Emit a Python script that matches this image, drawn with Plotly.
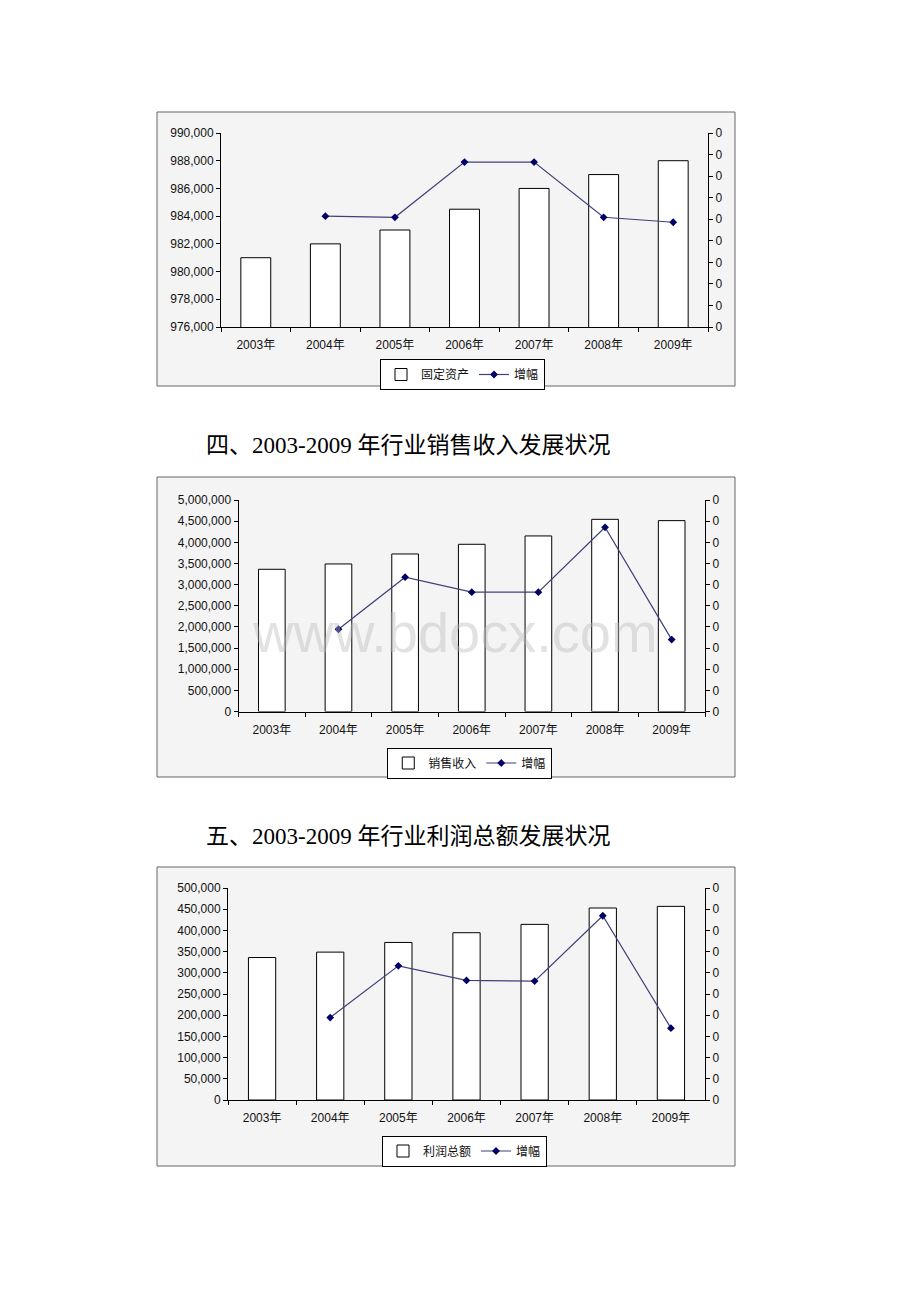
import plotly.graph_objects as go

# ---------------- data ----------------
years = ["2003年", "2004年", "2005年", "2006年", "2007年", "2008年", "2009年"]

fixed_assets = [981000, 982000, 983000, 984500, 986000, 987000, 988000]
fixed_growth = [None, 0.0514, 0.0509, 0.0765, 0.0765, 0.0509, 0.0486]

sales = [3362000, 3488000, 3724000, 3953000, 4150000, 4543000, 4512000]
sales_growth = [None, 0.0389, 0.0635, 0.0564, 0.0564, 0.0871, 0.0340]

profit = [336000, 348800, 371600, 394500, 414200, 452800, 456700]
profit_growth = [None, 0.0389, 0.0633, 0.0564, 0.0561, 0.0869, 0.0339]

bar_names = ["固定资产", "销售收入", "利润总额"]
line_name = "增幅"
headings = ["四、2003-2009 年行业销售收入发展状况", "五、2003-2009 年行业利润总额发展状况"]
watermark = "www.bdocx.com"

# ---------------- layout helpers ----------------
W, H = 920, 1302
def fx(px):
    return px / W
def fy(py):
    return 1 - py / H

charts = [
    dict(bars=fixed_assets, growth=fixed_growth, name=bar_names[0],
         frame=(157, 112, 735, 386), plot=(221, 133, 708, 327),
         lrange=[976000, 990000], ldtick=2000, rrange=[0, 0.09],
         legend_y=374.5, bw=0.43),
    dict(bars=sales, growth=sales_growth, name=bar_names[1],
         frame=(157, 477, 735, 777), plot=(238.5, 500, 705, 711.5),
         lrange=[0, 5000000], ldtick=500000, rrange=[0, 0.10],
         legend_y=763, bw=0.40),
    dict(bars=profit, growth=profit_growth, name=bar_names[2],
         frame=(157, 867, 735, 1166), plot=(228, 888, 705, 1100),
         lrange=[0, 500000], ldtick=50000, rrange=[0, 0.10],
         legend_y=1151, bw=0.40),
]

tick_font = dict(family="Liberation Sans, Arial, Noto Sans CJK SC", size=12, color="#111")
fig = go.Figure()
layout = dict(width=W, height=H,
              margin=dict(l=0, r=0, t=0, b=0, pad=0, autoexpand=False),
              paper_bgcolor="white", plot_bgcolor="rgba(0,0,0,0)",
              showlegend=True, shapes=[], annotations=[])

for i, c in enumerate(charts):
    xn = "x" if i == 0 else f"x{i+1}"
    yl = "y" if i == 0 else f"y{2*i+1}"
    yr = f"y{2*i+2}"
    leg = "legend" if i == 0 else f"legend{i+1}"
    x0, y0, x1, y1 = c["plot"]

    fig.add_trace(go.Bar(
        x=years, y=c["bars"], xaxis=xn, yaxis=yl, width=c["bw"], name=c["name"],
        marker=dict(color="white", line=dict(color="black", width=1)),
        legend=leg, hoverinfo="skip"))
    fig.add_trace(go.Scatter(
        x=years, y=c["growth"], xaxis=xn, yaxis=yr, mode="lines+markers", name=line_name,
        line=dict(color="#40407a", width=1.2),
        marker=dict(symbol="diamond", size=6, color="#000066"),
        legend=leg, hoverinfo="skip"))

    xkey = "xaxis" if i == 0 else f"xaxis{i+1}"
    ylkey = "yaxis" if i == 0 else f"yaxis{2*i+1}"
    yrkey = f"yaxis{2*i+2}"
    layout[xkey] = dict(domain=[fx(x0), fx(x1)], anchor=yl, type="category",
                        range=[-0.5, 6.5], tickson="boundaries", ticks="outside",
                        ticklen=4, tickcolor="black", showline=True, linecolor="black",
                        linewidth=1, showgrid=False, zeroline=False, tickfont=tick_font,
                        ticklabelstandoff=7, automargin=False)
    layout[ylkey] = dict(domain=[fy(y1), fy(y0)], anchor=xn, range=c["lrange"],
                         dtick=c["ldtick"], tick0=c["lrange"][0], tickformat=",d",
                         ticks="outside", ticklen=4, tickcolor="black", showline=True,
                         linecolor="black", linewidth=1, showgrid=False, zeroline=False,
                         tickfont=tick_font, automargin=False)
    layout[yrkey] = dict(overlaying=yl, side="right", anchor=xn, range=c["rrange"],
                         dtick=0.01, tick0=0, tickformat=".0f", ticks="outside",
                         ticklen=4, tickcolor="black", showline=True, linecolor="black",
                         linewidth=1, showgrid=False, zeroline=False, tickfont=tick_font,
                         automargin=False)
    layout[leg] = dict(orientation="h", x=fx((x0 + x1) / 2 - 2), xanchor="center",
                       y=fy(c["legend_y"]), yanchor="middle", bgcolor="white",
                       bordercolor="black", borderwidth=1,
                       font=dict(family="Noto Sans CJK SC, Liberation Sans", size=12, color="#111"),
                       itemwidth=30, tracegroupgap=0)

    fx0, fy0, fx1, fy1 = c["frame"]
    layout["shapes"].append(dict(type="rect", xref="paper", yref="paper",
                                 x0=fx(fx0), x1=fx(fx1), y0=fy(fy1), y1=fy(fy0),
                                 fillcolor="#f4f4f4", line=dict(color="#666", width=1),
                                 layer="below"))

heading_y = [445, 836]
for t, hy in zip(headings, heading_y):
    layout["annotations"].append(dict(
        text=t, x=fx(204), y=fy(hy), xref="paper", yref="paper",
        xanchor="left", yanchor="middle", showarrow=False,
        font=dict(family="Liberation Serif, Times New Roman, Noto Sans CJK SC", size=23, color="black")))

layout["annotations"].append(dict(
    text=watermark, x=fx(455), y=fy(632), xref="paper", yref="paper",
    xanchor="center", yanchor="middle", showarrow=False,
    font=dict(family="Liberation Sans, Arial", size=56, color="rgba(185,185,185,0.42)")))

fig.update_layout(**layout)
fig.write_html("out.html")
